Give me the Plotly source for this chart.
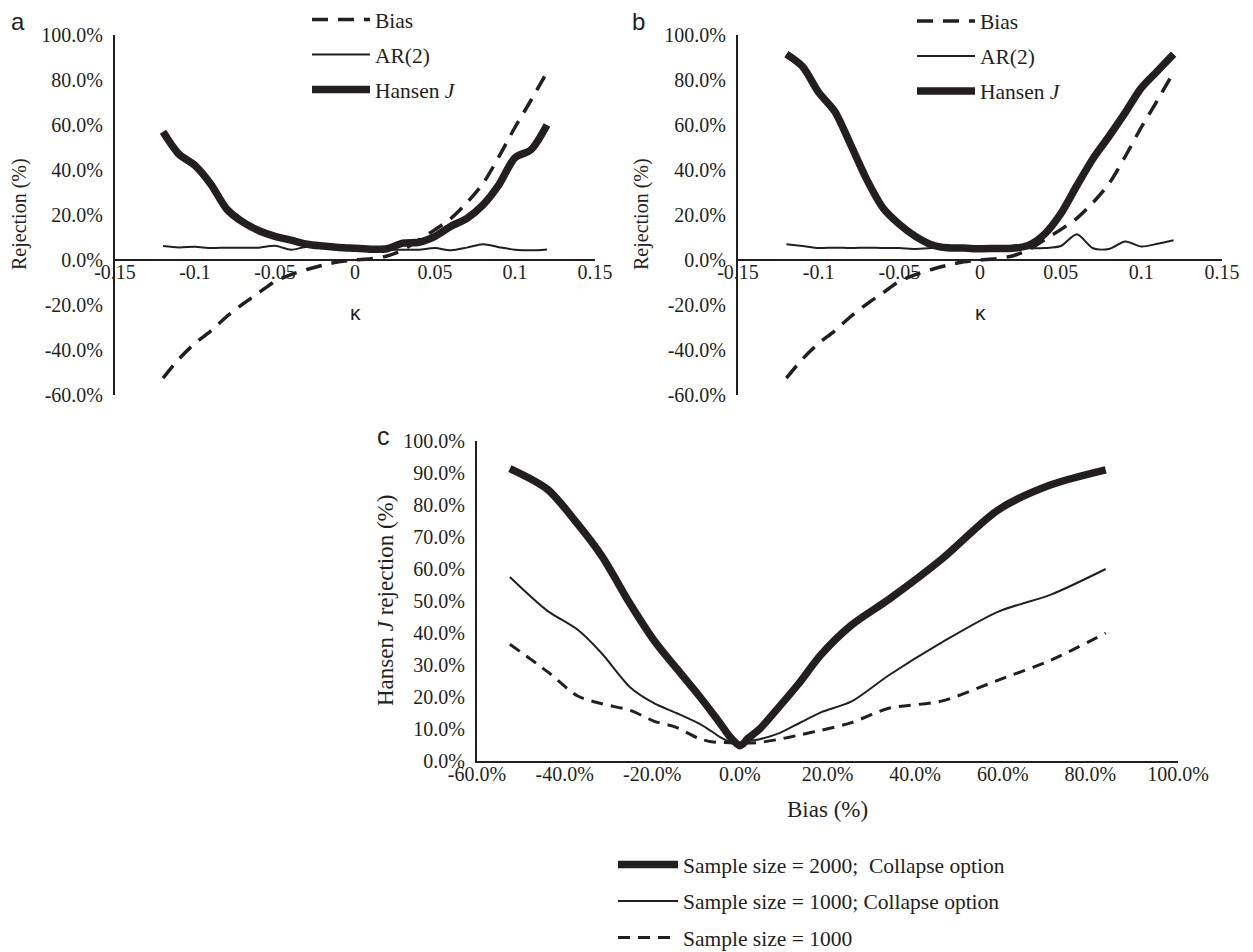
import plotly.graph_objects as go

# ---------------- data ----------------
kappa = [-0.12, -0.11, -0.10, -0.09, -0.08, -0.07, -0.06, -0.05, -0.04, -0.03, -0.02, -0.01,
         0.00, 0.01, 0.02, 0.03, 0.04, 0.05, 0.06, 0.07, 0.08, 0.09, 0.10, 0.11, 0.12]

bias_pct = [-52.5, -44.0, -37.0, -31.5, -25.0, -19.5, -14.5, -9.5, -6.5, -4.2, -2.3, -0.8,
            0.0, 0.6, 1.8, 4.5, 9.0, 13.5, 18.5, 25.5, 34.0, 46.0, 59.0, 71.0, 83.5]

# panel a (sample size 1000, collapse option)
ar2_a = [6.2, 5.6, 5.9, 5.3, 5.5, 5.4, 5.5, 6.3, 4.6, 5.9, 5.6, 5.2,
         5.0, 4.8, 4.6, 4.6, 4.6, 5.3, 4.3, 5.5, 7.0, 5.7, 4.6, 4.3, 4.7]
hansen_a = [57.0, 47.0, 42.0, 33.6, 22.5, 16.8, 13.0, 10.5, 8.8, 7.0, 6.2, 5.6,
            5.2, 4.8, 5.0, 7.5, 7.9, 10.5, 15.0, 18.5, 24.5, 33.5, 45.5, 49.0, 60.0]

# panel b (sample size 2000, collapse option)
ar2_b = [7.0, 6.2, 5.3, 5.5, 5.3, 5.5, 5.3, 5.3, 4.9, 5.3, 5.8, 6.0,
         5.8, 5.9, 5.6, 5.2, 5.3, 6.2, 11.5, 5.2, 4.9, 8.2, 6.0, 7.2, 8.8]
hansen_b = [91.5, 86.0, 74.5, 66.0, 51.0, 35.5, 23.0, 15.9, 10.5, 6.8, 5.4, 5.3,
            5.0, 5.1, 5.2, 6.5, 11.5, 20.5, 33.0, 45.0, 55.0, 65.5, 76.5, 84.0, 91.5]

# panel c (Hansen J rejection vs bias)
c_2000_collapse = [91.4, 85.0, 74.0, 64.0, 49.0, 37.5, 29.0, 20.7, 15.4, 11.2, 7.6, 5.5,
                   4.8, 5.2, 7.0, 10.0, 17.0, 24.3, 33.2, 42.5, 50.5, 63.0, 78.5, 86.3, 91.0]
c_1000_collapse = [57.5, 47.0, 41.0, 33.6, 23.0, 18.0, 15.0, 11.8, 9.3, 7.2, 6.0, 5.5,
                   5.3, 5.5, 6.2, 6.8, 8.7, 11.8, 15.2, 18.6, 26.8, 37.0, 46.7, 52.0, 60.0]
c_1000 = [36.5, 28.0, 20.3, 17.9, 15.8, 12.4, 10.5, 7.1, 6.0, 5.8, 5.7, 5.5,
          5.5, 5.5, 5.6, 5.8, 6.8, 8.1, 9.6, 12.0, 16.5, 18.7, 25.3, 31.5, 40.0]

# tick labels
k_tickvals = [-0.15, -0.10, -0.05, 0.0, 0.05, 0.10, 0.15]
k_ticktext = ["-0.15", "-0.1", "-0.05", "0", "0.05", "0.1", "0.15"]
rej_tickvals = [-60, -40, -20, 0, 20, 40, 60, 80, 100]
rej_ticktext = ["-60.0%", "-40.0%", "-20.0%", "0.0%", "20.0%", "40.0%", "60.0%", "80.0%", "100.0%"]
cy_tickvals = [0, 10, 20, 30, 40, 50, 60, 70, 80, 90, 100]
cy_ticktext = ["0.0%", "10.0%", "20.0%", "30.0%", "40.0%", "50.0%", "60.0%", "70.0%",
               "80.0%", "90.0%", "100.0%"]
cx_tickvals = [-60, -40, -20, 0, 20, 40, 60, 80, 100]
cx_ticktext = ["-60.0%", "-40.0%", "-20.0%", "0.0%", "20.0%", "40.0%", "60.0%", "80.0%", "100.0%"]

# ---------------- styling ----------------
OFF = 8                       # page body margin of the browser
W, H = 1253 - OFF, 952 - OFF  # figure size so that it ends at the window edge
INK = "#231f20"
SERIF = "Liberation Serif, Times New Roman, serif"
SANS = "Liberation Sans, Arial, sans-serif"


def px(x):
    """window pixel x -> paper fraction"""
    return (x - OFF) / W


def py(y):
    """window pixel y (from top) -> paper fraction"""
    return 1 - (y - OFF) / H


fig = go.Figure()

thick = dict(color=INK, width=7.5, shape="spline", smoothing=0.8)
thin = dict(color=INK, width=2, shape="spline", smoothing=0.8)
dashed_a = dict(color=INK, width=3.5, dash="16px,10px", shape="spline", smoothing=0.8)
dashed_c = dict(color=INK, width=3, dash="12px,8px", shape="spline", smoothing=0.8)

# panel a
fig.add_trace(go.Scatter(x=kappa, y=bias_pct, mode="lines", line=dashed_a, name="Bias",
                         xaxis="x", yaxis="y", legend="legend", legendgroup="a1"))
fig.add_trace(go.Scatter(x=kappa, y=ar2_a, mode="lines", line=thin, name="AR(2)",
                         xaxis="x", yaxis="y", legend="legend", legendgroup="a2"))
fig.add_trace(go.Scatter(x=kappa, y=hansen_a, mode="lines", line=thick, name="Hansen <i>J</i>",
                         xaxis="x", yaxis="y", legend="legend", legendgroup="a3"))
# panel b
fig.add_trace(go.Scatter(x=kappa, y=bias_pct, mode="lines", line=dashed_a, name="Bias",
                         xaxis="x2", yaxis="y2", legend="legend2", legendgroup="b1"))
fig.add_trace(go.Scatter(x=kappa, y=ar2_b, mode="lines", line=thin, name="AR(2)",
                         xaxis="x2", yaxis="y2", legend="legend2", legendgroup="b2"))
fig.add_trace(go.Scatter(x=kappa, y=hansen_b, mode="lines", line=thick, name="Hansen <i>J</i>",
                         xaxis="x2", yaxis="y2", legend="legend2", legendgroup="b3"))
# panel c
fig.add_trace(go.Scatter(x=bias_pct, y=c_2000_collapse, mode="lines", line=thick,
                         name="Sample size = 2000;  Collapse option",
                         xaxis="x3", yaxis="y3", legend="legend3", legendgroup="c1"))
fig.add_trace(go.Scatter(x=bias_pct, y=c_1000_collapse, mode="lines", line=thin,
                         name="Sample size = 1000; Collapse option",
                         xaxis="x3", yaxis="y3", legend="legend3", legendgroup="c2"))
fig.add_trace(go.Scatter(x=bias_pct, y=c_1000, mode="lines", line=dashed_c,
                         name="Sample size = 1000",
                         xaxis="x3", yaxis="y3", legend="legend3", legendgroup="c3"))

tickfont = dict(family=SERIF, size=20, color=INK)
XSTAND = -6
YSTAND = 6


def kaxis(domain, pos):
    return dict(domain=domain, range=[-0.15, 0.15], tickvals=k_tickvals, ticktext=k_ticktext,
                anchor="free", position=pos, showline=True, linecolor=INK, linewidth=2,
                showgrid=False, zeroline=False, ticks="", ticklen=0, ticklabelstandoff=XSTAND,
                tickfont=tickfont, fixedrange=True, automargin=False)


def raxis(domain, anchor):
    return dict(domain=domain, range=[-60, 100], tickvals=rej_tickvals, ticktext=rej_ticktext,
                anchor=anchor, showline=True, linecolor=INK, linewidth=2,
                showgrid=False, zeroline=False, ticks="", ticklen=0, ticklabelstandoff=YSTAND,
                tickfont=tickfont, fixedrange=True, automargin=False)


ydom_ab = [py(395), py(35)]
zero_pos = py(260)

legend_common = dict(bgcolor="rgba(0,0,0,0)", borderwidth=0, traceorder="grouped",
                     xanchor="left", yanchor="top", orientation="v")
legend_font = dict(family=SERIF, size=21.5, color=INK)


def label(text, x, y, size, family=SERIF, angle=0):
    return dict(text=text, x=px(x), y=py(y), xref="paper", yref="paper", showarrow=False,
                xanchor="center", yanchor="middle", textangle=angle,
                font=dict(family=family, size=size, color=INK))


fig.update_layout(
    width=W, height=H,
    margin=dict(l=0, r=0, t=0, b=0, pad=0, autoexpand=False),
    paper_bgcolor="white", plot_bgcolor="rgba(0,0,0,0)",
    font=dict(family=SERIF, color=INK),
    xaxis=kaxis([px(115), px(595)], zero_pos),
    yaxis=raxis(ydom_ab, "x"),
    xaxis2=kaxis([px(738), px(1222)], zero_pos),
    yaxis2=raxis(ydom_ab, "x2"),
    xaxis3=dict(domain=[px(477), px(1178)], range=[-60, 100], tickvals=cx_tickvals,
                ticktext=cx_ticktext, anchor="y3", showline=True, linecolor=INK, linewidth=2,
                showgrid=False, zeroline=False, ticks="", ticklen=0, ticklabelstandoff=XSTAND,
                tickfont=tickfont, fixedrange=True, automargin=False),
    yaxis3=dict(domain=[py(761), py(441)], range=[0, 100], tickvals=cy_tickvals,
                ticktext=cy_ticktext, anchor="x3", showline=True, linecolor=INK, linewidth=2,
                showgrid=False, zeroline=False, ticks="", ticklen=0, ticklabelstandoff=YSTAND,
                tickfont=tickfont, fixedrange=True, automargin=False),
    legend=dict(x=px(307), y=py(-1), itemwidth=58, tracegroupgap=4, font=legend_font,
                **legend_common),
    legend2=dict(x=px(912), y=py(0.5), itemwidth=58, tracegroupgap=4, font=legend_font,
                 **legend_common),
    legend3=dict(x=px(613), y=py(844), itemwidth=60, tracegroupgap=5.5, font=legend_font,
                 **legend_common),
    annotations=[
        label("a", 18, 22, 24, SANS),
        label("b", 639, 22, 24, SANS),
        label("c", 383, 436, 25, SANS),
        label("Rejection (%)", 20, 214, 20, angle=-90),
        label("Rejection (%)", 642, 214, 20, angle=-90),
        label("κ", 355, 312, 21, SANS),
        label("κ", 980, 312, 21, SANS),
        label("Hansen <i>J</i> rejection (%)", 385, 601, 23, angle=-90),
        label("Bias (%)", 827, 809, 23),
    ],
)

fig.write_html("out.html")
